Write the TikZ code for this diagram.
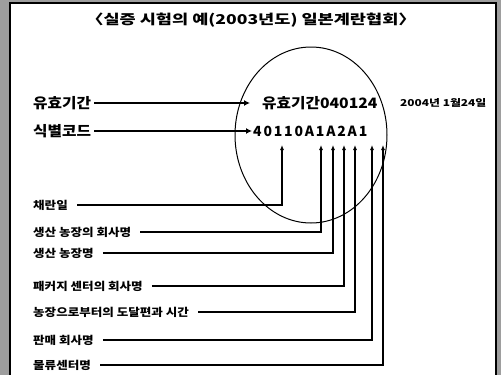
\documentclass[tikz,border=0pt]{standalone}
\usepackage{fontspec}
\setmainfont{Noto Sans CJK KR}
\newfontfamily\ktitle[FakeStretch=1.3]{Noto Sans CJK KR}
\newfontfamily\kbig[FakeStretch=1.1]{Noto Sans CJK KR}
\newfontfamily\ksmall[FakeStretch=1.14]{Noto Sans CJK KR}
\newfontfamily\kdate[FakeStretch=1.25]{Noto Sans CJK KR}
\newfontfamily\codefont[LetterSpace=13]{Noto Sans CJK KR}
\usetikzlibrary{arrows.meta}
\begin{document}
\begin{tikzpicture}[x=1pt,y=-1pt,
  bigtxt/.style={font=\fontsize{14.3}{16}\kbig\bfseries, inner sep=0pt, anchor=west},
  smalltxt/.style={font=\fontsize{11}{12}\ksmall\bfseries, inner sep=0pt, anchor=west},
  toparrow/.style={line width=1.7pt, -{Latex[length=6pt,width=6pt]}},
  conn/.style={line width=1.1pt, -{Latex[length=5pt,width=4pt]}}]
\useasboundingbox (0,0) rectangle (501,375);
\fill[black!38] (0,0) rectangle (501,375);
\fill[white] (10,3) rectangle (496,375);
\draw[line width=1.2pt] (10,375) -- (10,3) -- (496,3) -- (496,375);
% title
\node[font=\fontsize{13.5}{15}\ktitle\bfseries, inner sep=0pt] (title) at (251,20) {〈실증 시험의 예(2003년도) 일본계란협회〉};
% circle
\draw[line width=1pt] (311,135) ellipse [x radius=76, y radius=88];
% top labels
\node[bigtxt] (k1) at (33,103) {유효기간};
\node[bigtxt] (k2) at (33,131) {식별코드};
\node[bigtxt] (v1) at (262,103) {유효기간040124};
\node[font=\fontsize{14}{16}\codefont\bfseries, inner sep=0pt, anchor=west] (v2) at (253,131) {40110A1A2A1};
\node[font=\fontsize{9.5}{10}\kdate\bfseries, inner sep=0pt, anchor=west] (date) at (400,103) {2004년 1월24일};
\coordinate (a1) at (250,103);
\coordinate (a2) at (252,131);
\draw[toparrow] ([xshift=3pt]k1.east) -- (a1);
\draw[toparrow] ([xshift=3pt]k2.east) -- (a2);
% lower labels
\node[smalltxt] (l1) at (33,205) {채란일};
\node[smalltxt] (l2) at (33,232) {생산 농장의 회사명};
\node[smalltxt] (l3) at (33,253) {생산 농장명};
\node[smalltxt] (l4) at (33,286) {패커지 센터의 회사명};
\node[smalltxt] (l5) at (33,312) {농장으로부터의 도달편과 시간};
\node[smalltxt] (l6) at (33,340) {판매 회사명};
\node[smalltxt] (l7) at (33,365) {물류센터명};
\coordinate (t1) at (282,145);
\coordinate (t2) at (321,145);
\coordinate (t3) at (333,145);
\coordinate (t4) at (344,145);
\coordinate (t5) at (355,145);
\coordinate (t6) at (372,145);
\coordinate (t7) at (383,145);
\draw[conn] ([xshift=9pt]l1.east) -| (t1);
\draw[conn] ([xshift=9pt]l2.east) -| (t2);
\draw[conn] ([xshift=9pt]l3.east) -| (t3);
\draw[conn] ([xshift=9pt]l4.east) -| (t4);
\draw[conn] ([xshift=9pt]l5.east) -| (t5);
\draw[conn] ([xshift=9pt]l6.east) -| (t6);
\draw[conn] ([xshift=9pt]l7.east) -| (t7);
\end{tikzpicture}
\end{document}
